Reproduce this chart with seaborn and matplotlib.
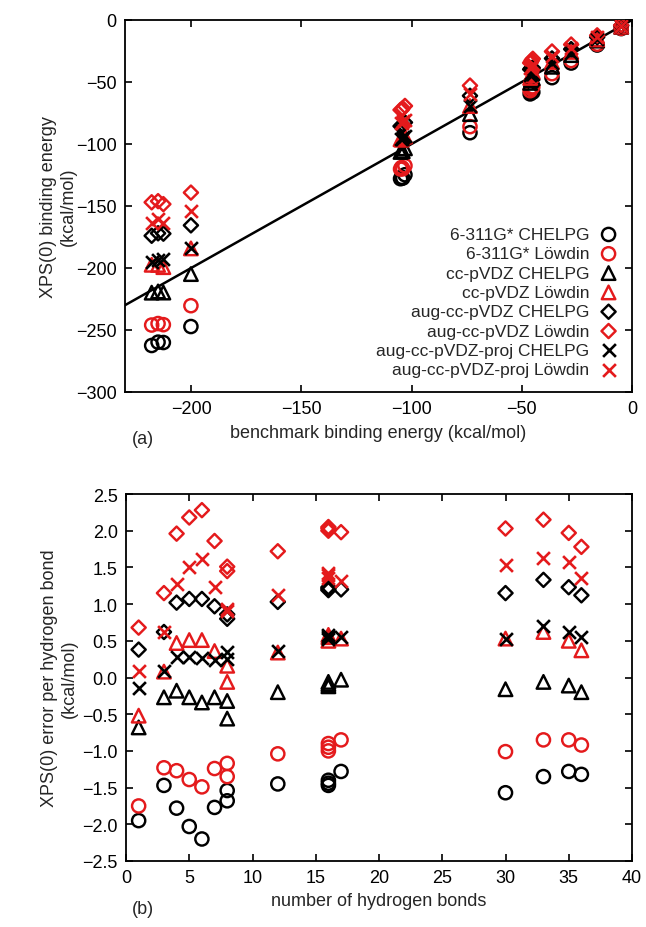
"""
XPS(0) binding energies vs benchmark, and error per hydrogen bond.
"""
import matplotlib
matplotlib.use("Agg")
import matplotlib.pyplot as plt
import numpy as np
import pandas as pd
import seaborn as sns

# number of hydrogen bonds per cluster
n_hbonds = [1, 3, 4, 5, 6, 7, 8, 8, 12, 16, 16, 16, 17, 30, 33, 35, 36]
# benchmark binding energy (kcal/mol)
benchmark = [-4.9, -15.8, -27.6, -36.3, -45.0, -45.5, -45.8, -46.2, -73.5,
             -104.5, -105.0, -104.0, -103.0, -200.1, -217.9, -215.0, -212.6]

# XPS(0) binding energies (kcal/mol), panel (a)
xps_631_chelpg = [-6.9, -20.2, -34.7, -46.5, -58.2, -57.9, -58.1, -59.6, -90.9,
                  -126.9, -128.0, -127.5, -124.8, -247.2, -262.5, -259.8, -260.1]
xps_631_lowdin = [-6.7, -19.5, -32.7, -43.3, -53.9, -54.2, -55.2, -57.0, -86.0,
                  -118.9, -120.2, -120.0, -117.5, -230.4, -246.0, -244.8, -245.7]
xps_ccpvdz_chelpg = [-5.6, -16.6, -28.3, -37.7, -47.0, -47.4, -48.4, -50.7, -75.9,
                     -105.5, -106.4, -105.9, -103.5, -204.9, -219.9, -218.9, -219.8]
xps_ccpvdz_lowdin = [-5.4, -15.6, -25.7, -33.8, -41.9, -43.0, -44.5, -46.7, -69.4,
                     -96.5, -96.2, -94.7, -94.0, -184.2, -197.4, -197.5, -199.3]
xps_aug_chelpg = [-4.5, -13.9, -23.5, -31.0, -38.6, -38.7, -38.9, -39.8, -61.1,
                  -85.5, -85.6, -84.3, -82.6, -165.6, -174.0, -172.0, -172.3]
xps_aug_lowdin = [-4.2, -12.4, -19.8, -25.4, -31.3, -32.5, -33.7, -34.6, -52.9,
                  -72.5, -72.5, -71.2, -69.3, -139.2, -147.0, -146.1, -148.5]
xps_augproj_chelpg = [-5.0, -15.5, -26.5, -34.9, -43.4, -43.8, -43.0, -44.2, -69.2,
                      -96.0, -96.2, -94.7, -93.7, -184.2, -194.8, -193.3, -192.8]
xps_augproj_lowdin = [-4.8, -13.9, -22.5, -28.8, -35.3, -36.9, -38.4, -39.0, -59.9,
                      -82.7, -82.8, -81.3, -80.7, -154.2, -164.1, -160.1, -164.0]

# error per hydrogen bond (kcal/mol), panel (b)
err_631_chelpg = [-1.95, -1.47, -1.78, -2.03, -2.20, -1.77, -1.54, -1.68, -1.45,
                  -1.40, -1.44, -1.47, -1.28, -1.57, -1.35, -1.28, -1.32]
err_631_lowdin = [-1.75, -1.23, -1.27, -1.39, -1.49, -1.24, -1.17, -1.35, -1.04,
                  -0.90, -0.95, -1.00, -0.85, -1.01, -0.85, -0.85, -0.92]
err_ccpvdz_chelpg = [-0.68, -0.27, -0.18, -0.27, -0.34, -0.27, -0.32, -0.56, -0.20,
                     -0.06, -0.09, -0.12, -0.03, -0.16, -0.06, -0.11, -0.20]
err_ccpvdz_lowdin = [-0.52, 0.08, 0.47, 0.51, 0.51, 0.36, 0.16, -0.06, 0.34,
                     0.50, 0.55, 0.58, 0.53, 0.53, 0.62, 0.50, 0.37]
err_aug_chelpg = [0.38, 0.62, 1.02, 1.07, 1.07, 0.97, 0.86, 0.80, 1.03,
                  1.19, 1.21, 1.23, 1.20, 1.15, 1.33, 1.23, 1.12]
err_aug_lowdin = [0.68, 1.15, 1.96, 2.18, 2.28, 1.86, 1.51, 1.45, 1.72,
                  2.00, 2.03, 2.05, 1.98, 2.03, 2.15, 1.97, 1.78]
err_augproj_chelpg = [-0.14, 0.09, 0.28, 0.28, 0.27, 0.24, 0.35, 0.25, 0.36,
                      0.53, 0.55, 0.58, 0.55, 0.53, 0.70, 0.62, 0.55]
err_augproj_lowdin = [0.09, 0.62, 1.28, 1.51, 1.61, 1.23, 0.93, 0.90, 1.13,
                      1.36, 1.39, 1.42, 1.31, 1.53, 1.63, 1.57, 1.35]

labels = ["6-311G* CHELPG", "6-311G* Löwdin", "cc-pVDZ CHELPG", "cc-pVDZ Löwdin",
          "aug-cc-pVDZ CHELPG", "aug-cc-pVDZ Löwdin",
          "aug-cc-pVDZ-proj CHELPG", "aug-cc-pVDZ-proj Löwdin"]
top_values = [xps_631_chelpg, xps_631_lowdin, xps_ccpvdz_chelpg, xps_ccpvdz_lowdin,
              xps_aug_chelpg, xps_aug_lowdin, xps_augproj_chelpg, xps_augproj_lowdin]
bottom_values = [err_631_chelpg, err_631_lowdin, err_ccpvdz_chelpg, err_ccpvdz_lowdin,
                 err_aug_chelpg, err_aug_lowdin, err_augproj_chelpg, err_augproj_lowdin]

BLACK = "black"
RED = "#e41a1c"
# marker, size, colour per series
styles = [("o", 90, BLACK), ("o", 90, RED), ("^", 95, BLACK), ("^", 95, RED),
          ("D", 52, BLACK), ("D", 52, RED), ("x", 85, BLACK), ("x", 85, RED)]

sns.set_theme(style="ticks")
plt.rcParams["font.family"] = ["Liberation Sans", "DejaVu Sans"]
plt.rcParams["axes.unicode_minus"] = True

fig = plt.figure(figsize=(6.46, 9.28), dpi=100)
ax_a = fig.add_axes([125 / 646, 1 - 393 / 928, 507 / 646, 372 / 928])
ax_b = fig.add_axes([126 / 646, 1 - 862 / 928, 506 / 646, 367 / 928])


def draw_series(ax, x, y, style, label):
    marker, size, col = style
    df = pd.DataFrame({"x": x, "y": y})
    if marker == "x":
        sns.scatterplot(data=df, x="x", y="y", marker=marker, s=size, color=col,
                        linewidth=1.9, label=label, ax=ax, zorder=3)
    else:
        sns.scatterplot(data=df, x="x", y="y", marker=marker, s=size, color=col,
                        facecolors="none", edgecolor=col, linewidth=1.75,
                        label=label, ax=ax, zorder=3)


for vals, style, lab in zip(top_values, styles, labels):
    draw_series(ax_a, benchmark, vals, style, lab)
for vals, style, lab in zip(bottom_values, styles, labels):
    draw_series(ax_b, n_hbonds, vals, style, None)

ax_a.axline((0, 0), slope=1, color="black", linewidth=1.8, zorder=2)

ax_a.set_xlim(-230, 0)
ax_a.set_ylim(-300, 0)
ax_a.set_xticks(np.arange(-200, 1, 50))
ax_a.set_yticks(np.arange(-300, 1, 50))
ax_b.set_xlim(0, 40)
ax_b.set_ylim(-2.5, 2.5)
ax_b.set_xticks(np.arange(0, 41, 5))
ax_b.set_yticks(np.arange(-2.5, 2.51, 0.5))
ax_b.yaxis.set_major_formatter(
    matplotlib.ticker.FuncFormatter(lambda v, p: f"{v:.1f}".replace("-", "\u2212")))

fs = 13
for ax in (ax_a, ax_b):
    ax.tick_params(direction="in", length=5, width=1.2, top=True, right=True,
                   labelsize=fs, pad=6, colors="black")
    for sp in ax.spines.values():
        sp.set_linewidth(1.3)
        sp.set_color("black")
    ax.grid(False)

ax_a.set_xlabel("benchmark binding energy (kcal/mol)", fontsize=fs)
ax_a.set_ylabel("XPS(0) binding energy\n(kcal/mol)", fontsize=fs, ha="center")
ax_b.set_xlabel("number of hydrogen bonds", fontsize=fs)
ax_b.set_ylabel("XPS(0) error per hydrogen bond\n(kcal/mol)", fontsize=fs, ha="center")
ax_a.xaxis.set_label_coords(0.5, -0.085)
ax_b.xaxis.set_label_coords(0.5, -0.085)
ax_a.yaxis.set_label_coords(-0.095, 0.5)
ax_b.yaxis.set_label_coords(-0.095, 0.5)

fig.text(143 / 646, 1 - 440 / 928, "(a)", fontsize=fs, ha="center", va="center")
fig.text(143 / 646, 1 - 910 / 928, "(b)", fontsize=fs, ha="center", va="center")

leg = ax_a.legend(loc="lower right", bbox_to_anchor=(1.0, 0.0), frameon=False,
                  markerfirst=False, fontsize=12.5, labelspacing=0.24,
                  handlelength=1.0, handletextpad=0.6, borderpad=0.35)

fig.savefig("out.png", dpi=100)
